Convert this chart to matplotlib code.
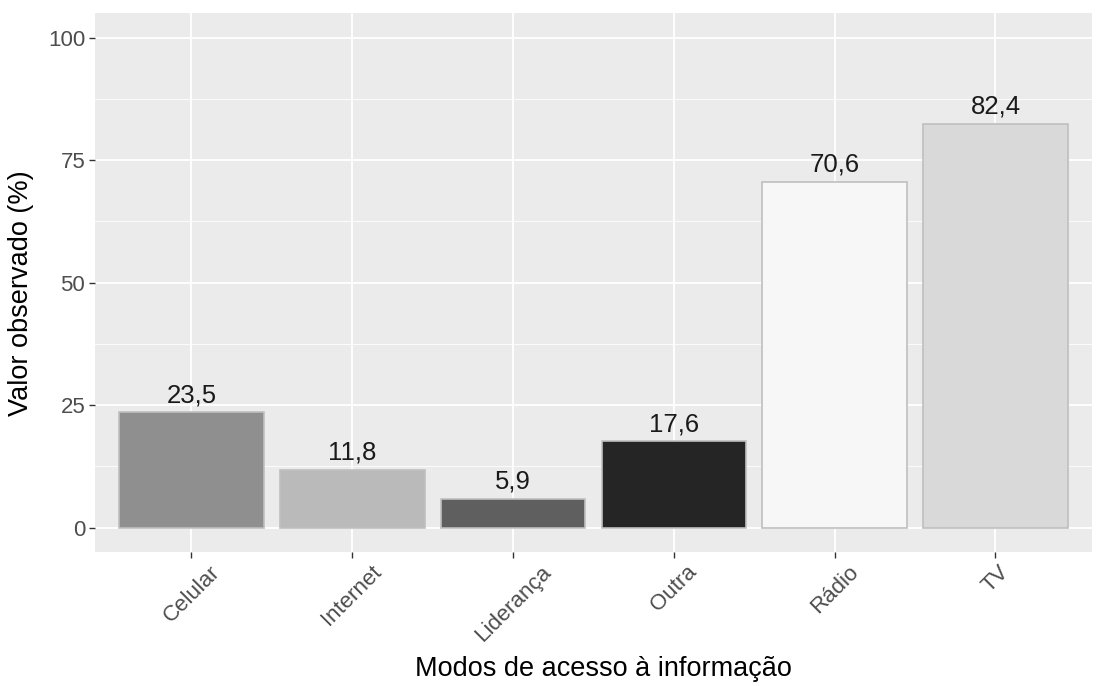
import numpy as np
import matplotlib
matplotlib.use("Agg")
import matplotlib.pyplot as plt
from matplotlib.ticker import MultipleLocator

plt.rcParams['font.family'] = ['Liberation Sans', 'DejaVu Sans']

# data
categorias = ["Celular", "Internet", "Liderança", "Outra", "Rádio", "TV"]
valores = [23.5, 11.8, 5.9, 17.6, 70.6, 82.4]
rotulos = ["23,5", "11,8", "5,9", "17,6", "70,6", "82,4"]
cores = ["#8f8f8f", "#bababa", "#5f5f5f", "#252525", "#f7f7f7", "#d9d9d9"]
y_ticks = [0, 25, 50, 75, 100]

fig = plt.figure(figsize=(10.96, 6.86), dpi=100)
ax = fig.add_axes([0.0867, 0.1953, 0.9096, 0.7857])
ax.set_facecolor("#ebebeb")

x = np.arange(1, len(categorias) + 1)
ax.bar(x, valores, width=0.9, color=cores, edgecolor="#bfbfbf", linewidth=1.2, zorder=3)
for xi, v, r in zip(x, valores, rotulos):
    ax.text(xi, v + 1.0, r, ha="center", va="bottom", fontsize=18.5, color="#1a1a1a", zorder=4)

ax.set_xlim(0.4, 6.6)
ax.set_ylim(-5, 105)
ax.set_xticks(x)
ax.set_xticklabels(categorias, rotation=45, ha="center", va="top", fontsize=16, color="#4d4d4d")
ax.set_yticks(y_ticks)
ax.set_yticklabels([str(t) for t in y_ticks], fontsize=16, color="#4d4d4d")
ax.yaxis.set_minor_locator(MultipleLocator(12.5))

ax.grid(which="major", color="white", linewidth=1.3, zorder=0)
ax.grid(which="minor", axis="y", color="white", linewidth=0.6, zorder=0)
ax.set_axisbelow(True)
for s in ax.spines.values():
    s.set_visible(False)
ax.tick_params(which="major", length=4, color="#333333", width=1, pad=3)
ax.tick_params(which="minor", length=0)

ax.set_xlabel("Modos de acesso à informação", fontsize=19.5, color="black")
ax.set_ylabel("Valor observado (%)", fontsize=19.5, color="black")
ax.xaxis.set_label_coords(0.51, -0.193)
ax.yaxis.set_label_coords(-0.061, 0.48)

fig.savefig("out.png", dpi=100)
